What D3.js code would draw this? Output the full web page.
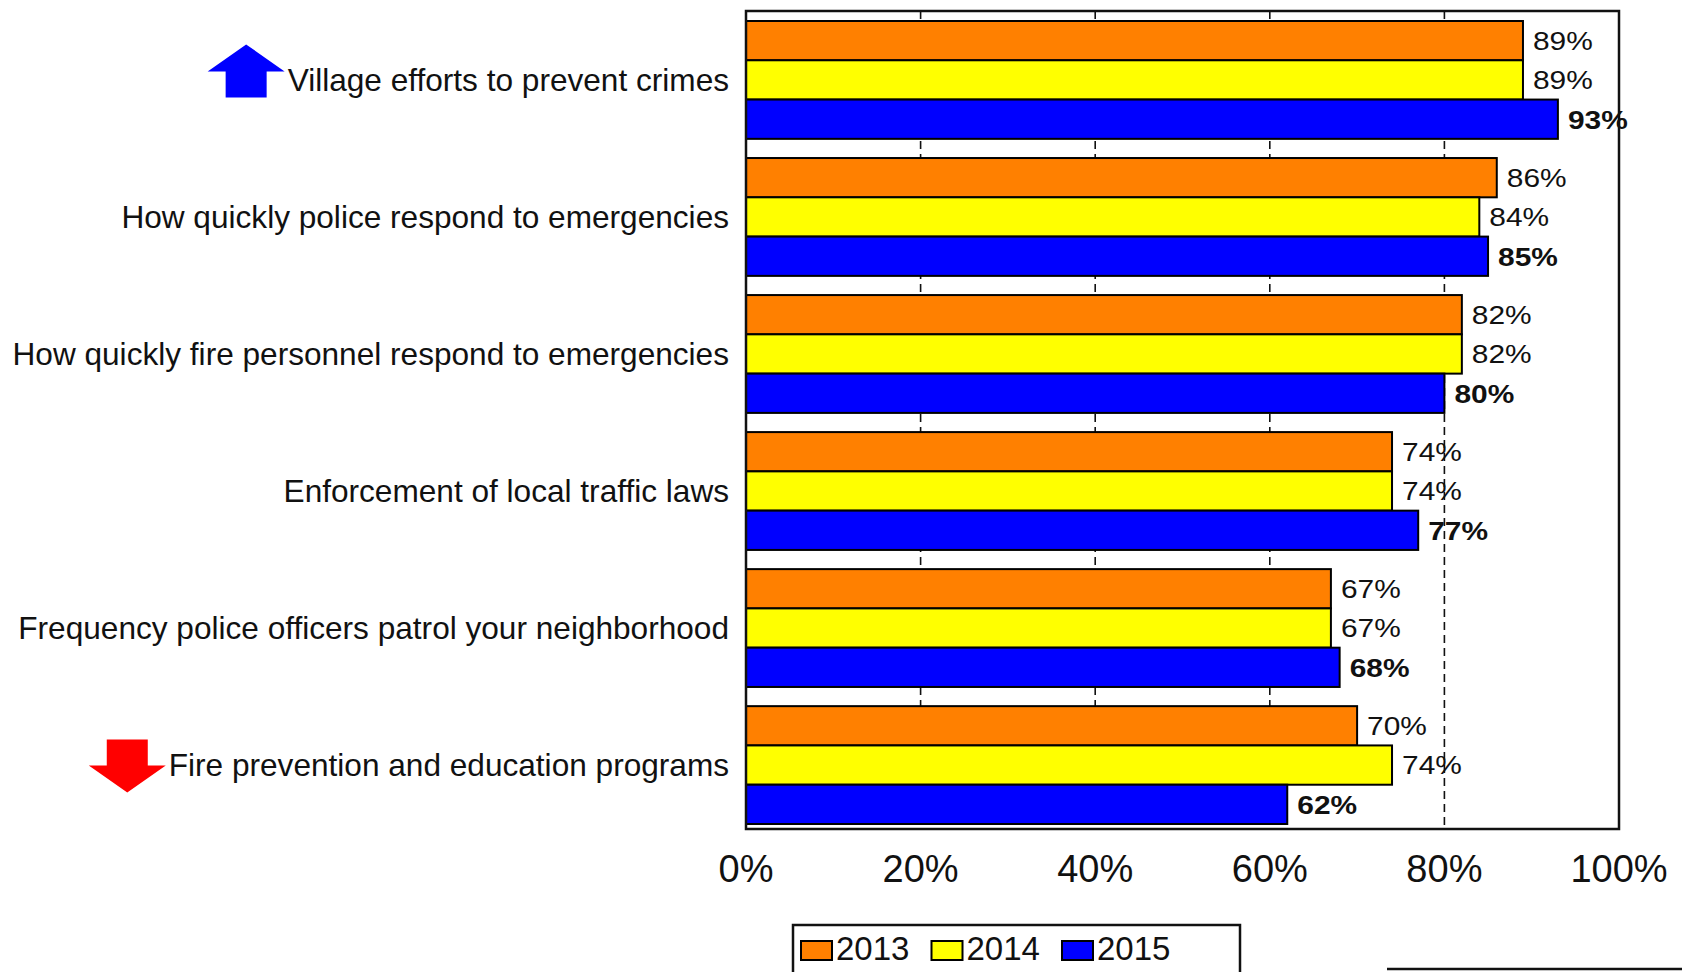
<!DOCTYPE html>
<html>
<head>
<meta charset="utf-8">
<script src="https://cdn.jsdelivr.net/npm/d3@7"></script>
<style>
    body { margin: 0; background: #fff; }
    text { font-family: "Liberation Sans", Arial, sans-serif; fill: #111; }
</style>
</head>
<body>
<div id="chart"></div>
<script>
// data
var categories = [
    "Village efforts to prevent crimes",
    "How quickly police respond to emergencies",
    "How quickly fire personnel respond to emergencies",
    "Enforcement of local traffic laws",
    "Frequency police officers patrol your neighborhood",
    "Fire prevention and education programs"
];
var years = ["2013", "2014", "2015"];
var values2013 = [89, 86, 82, 74, 67, 70];
var values2014 = [89, 84, 82, 74, 67, 74];
var values2015 = [93, 85, 80, 77, 68, 62];
var trends = ["up", "", "", "", "", "down"];
var xTicks = [0, 20, 40, 60, 80, 100];
var gridTicks = [20, 40, 60, 80];
var yearColors = ["#ff8000", "#ffff00", "#0000ff"];

var margin = {
        top: 11,
        left: 746
    },
    width = 873,
    height = 818;

var rows = categories.map(function(c, i) {
    return {
        cat: c,
        trend: trends[i],
        data: [
            { year: years[0], value: values2013[i] },
            { year: years[1], value: values2014[i] },
            { year: years[2], value: values2015[i] }
        ]
    };
});

var x = d3.scaleLinear()
    .domain([0, 100])
    .range([0, width]);
var y = d3.scaleBand()
    .domain(categories)
    .range([10, 813])
    .paddingInner(0.14);
var y1 = d3.scaleBand()
    .domain(years)
    .range([0, y.bandwidth()]);
var color = d3.scaleOrdinal()
    .domain(years)
    .range(yearColors);

var svg = d3.select("#chart").append("svg")
    .attr("width", 1682)
    .attr("height", 972);

var chart = svg.append("g")
    .attr("transform", "translate(" + margin.left + "," + margin.top + ")");

// dashed grid, mostly hidden behind the bars
chart.selectAll(".grid")
    .data(gridTicks)
    .enter().append("line")
    .attr("class", "grid")
    .attr("x1", function(d) { return x(d); })
    .attr("x2", function(d) { return x(d); })
    .attr("y1", 0)
    .attr("y2", height)
    .style("stroke", "#111")
    .style("stroke-width", 1.6)
    .style("stroke-dasharray", "8,5");

var groups = chart.selectAll(".cat")
    .data(rows)
    .enter().append("g")
    .attr("class", "cat")
    .attr("transform", function(d) {
        return "translate(0," + y(d.cat) + ")";
    });

groups.selectAll(".bar")
    .data(function(d) { return d.data; })
    .enter().append("rect")
    .attr("class", "bar")
    .attr("x", x(0))
    .attr("y", function(d) { return y1(d.year); })
    .attr("width", function(d) { return x(d.value) - x(0); })
    .attr("height", y1.bandwidth())
    .style("fill", function(d) { return color(d.year); })
    .style("stroke", "#000")
    .style("stroke-width", 2);

groups.selectAll(".val")
    .data(function(d) { return d.data; })
    .enter().append("text")
    .attr("class", "val")
    .attr("transform", function(d) {
        return "translate(" + (x(d.value) + 10) + "," + (y1(d.year) + y1.bandwidth() / 2) + ") scale(1.15,1)";
    })
    .attr("dy", "0.36em")
    .attr("font-size", 26)
    .attr("font-weight", function(d) { return d.year == "2015" ? "bold" : "normal"; })
    .text(function(d) { return d.value + "%"; });

// category labels + trend arrows
groups.append("text")
    .attr("class", "catLabel")
    .attr("x", -17)
    .attr("y", y.bandwidth() / 2)
    .attr("dy", "0.36em")
    .attr("text-anchor", "end")
    .attr("font-size", 31.6)
    .text(function(d) { return d.cat; });

groups.filter(function(d) { return d.trend != ""; })
    .append("path")
    .attr("d", function(d) {
        var len = this.parentNode.querySelector(".catLabel").getComputedTextLength();
        var r = -17 - len - 3, l = r - 77, cx = (l + r) / 2;
        var hw = 20.5;
        if (d.trend == "up") {
            var t = y.bandwidth() / 2 - 9 - 26.5, b = t + 53, hb = t + 27;
            return "M" + cx + "," + t + "L" + r + "," + hb + "L" + (cx + hw) + "," + hb +
                "L" + (cx + hw) + "," + b + "L" + (cx - hw) + "," + b + "L" + (cx - hw) + "," + hb +
                "L" + l + "," + hb + "Z";
        } else {
            var t2 = y.bandwidth() / 2 + 1 - 26.5, b2 = t2 + 53, hb2 = b2 - 27;
            return "M" + (cx - hw) + "," + t2 + "L" + (cx + hw) + "," + t2 + "L" + (cx + hw) + "," + hb2 +
                "L" + r + "," + hb2 + "L" + cx + "," + b2 + "L" + l + "," + hb2 +
                "L" + (cx - hw) + "," + hb2 + "Z";
        }
    })
    .style("fill", function(d) { return d.trend == "up" ? "#0000ff" : "#ff0000"; });

// plot frame
chart.append("rect")
    .attr("x", 0)
    .attr("y", 0)
    .attr("width", width)
    .attr("height", height)
    .style("fill", "none")
    .style("stroke", "#111")
    .style("stroke-width", 2.5);

chart.selectAll(".tickLabel")
    .data(xTicks)
    .enter().append("text")
    .attr("class", "tickLabel")
    .attr("x", function(d) { return x(d); })
    .attr("y", height + 53)
    .attr("text-anchor", "middle")
    .attr("font-size", 38)
    .text(function(d) { return d + "%"; });

// legend
var legend = svg.append("g")
    .attr("transform", "translate(793,925)");

legend.append("rect")
    .attr("width", 447)
    .attr("height", 80)
    .style("fill", "#fff")
    .style("stroke", "#111")
    .style("stroke-width", 2.5);

var items = legend.selectAll(".item")
    .data(years)
    .enter().append("g")
    .attr("class", "item")
    .attr("transform", function(d, i) {
        return "translate(" + (8 + i * 130.5) + ",0)";
    });

items.append("rect")
    .attr("y", 16)
    .attr("width", 31)
    .attr("height", 19)
    .style("fill", function(d) { return color(d); })
    .style("stroke", "#000")
    .style("stroke-width", 2);

items.append("text")
    .attr("x", 35)
    .attr("y", 35)
    .attr("font-size", 33)
    .text(function(d) { return d; });

svg.append("line")
    .attr("x1", 1387)
    .attr("x2", 1682)
    .attr("y1", 969)
    .attr("y2", 969)
    .style("stroke", "#111")
    .style("stroke-width", 2.5);
</script>
</body>
</html>
